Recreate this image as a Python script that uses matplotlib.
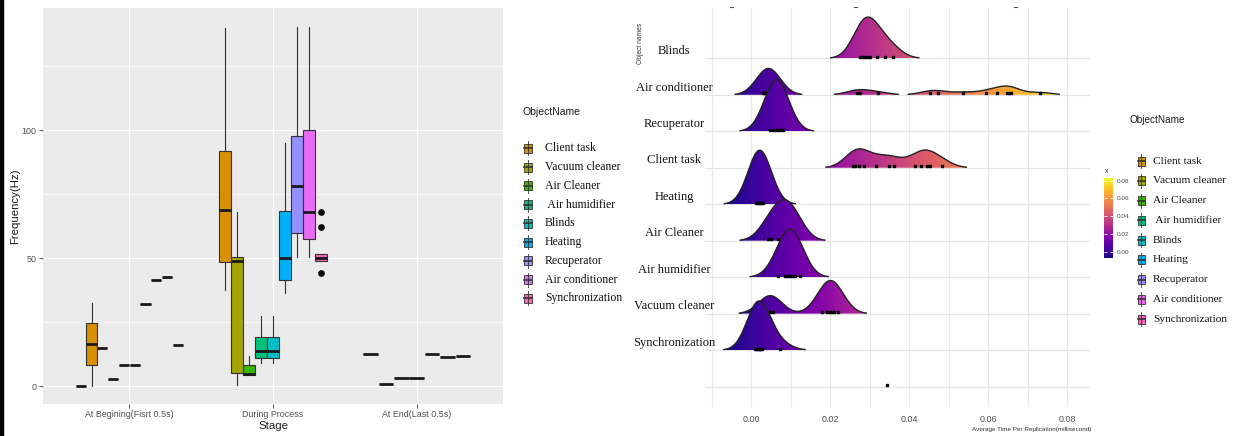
import numpy as np
import matplotlib
matplotlib.use("Agg")
import matplotlib.pyplot as plt
from matplotlib.patches import Rectangle, Polygon
from matplotlib.colors import Normalize
from matplotlib.cm import ScalarMappable

W, H, DPI = 1239, 436, 100
SANS = "Liberation Sans"
SERIF = "Liberation Serif"

# ---------------- shared categories ----------------
object_names = ["", "Client task", "Vacuum cleaner", "Air Cleaner", " Air humidifier",
                "Blinds", "Heating", "Recuperator", "Air conditioner", "Synchronization"]
object_colors = ["#F8766D", "#D89000", "#A3A500", "#39B600", "#00BF7D",
                 "#00BFC4", "#00B0F6", "#9590FF", "#E76BF3", "#FF62BC"]

# ---------------- left panel data (Frequency, Hz) ----------------
stages = ["At Begining(Fisrt 0.5s)", "During Process", "At End(Last 0.5s)"]

begin_objects = [0, 1, 2, 3, 4, 5, 6, 7, 8, 9]
begin_whislo = [0.0, 0.0, 15.0, 2.7, 8.3, 8.3, 32.0, 41.3, 42.7, 16.0]
begin_q1     = [0.0, 8.2, 15.0, 2.7, 8.3, 8.3, 32.0, 41.3, 42.7, 16.0]
begin_median = [0.0, 16.4, 15.0, 2.7, 8.3, 8.3, 32.0, 41.3, 42.7, 16.0]
begin_q3     = [0.0, 24.5, 15.0, 2.7, 8.3, 8.3, 32.0, 41.3, 42.7, 16.0]
begin_whishi = [0.0, 32.6, 15.0, 2.7, 8.3, 8.3, 32.0, 41.3, 42.7, 16.0]
begin_fliers = [[], [], [], [], [], [], [], [], [], []]

during_objects = [1, 2, 3, 4, 5, 6, 7, 8, 9]
during_whislo = [37.5, 0.4, 4.3, 9.1, 9.1, 36.4, 50.4, 50.4, 48.8]
during_q1     = [48.6, 5.0, 4.3, 11.0, 11.0, 41.3, 59.6, 57.3, 48.8]
during_median = [68.8, 48.8, 4.8, 13.7, 13.7, 49.9, 78.2, 68.1, 50.0]
during_q3     = [91.8, 50.4, 8.2, 19.3, 19.3, 68.4, 97.8, 100.0, 51.4]
during_whishi = [140.0, 68.0, 11.7, 27.5, 27.5, 94.8, 140.4, 140.4, 51.4]
during_fliers = [[], [], [], [], [], [], [], [], [68.1, 62.0, 44.3]]

end_objects = [1, 2, 3, 4, 5, 6, 7]
end_values = [12.5, 0.8, 3.1, 3.1, 12.5, 11.3, 11.6]

# ---------------- right panel data (Average time per replication, ms) ----------------
ridge_names = ["Blinds", "Air conditioner", "Recuperator", "Client task", "Heating",
               "Air Cleaner", "Air humidifier", "Vacuum cleaner", "Synchronization", ""]
blinds_pts = [0.0275, 0.0280, 0.0285, 0.0290, 0.0296, 0.0301, 0.0318, 0.0337, 0.0358]
aircond_pts = [0.0028, 0.0032, 0.0035, 0.0038, 0.0040, 0.0042, 0.0044, 0.0046, 0.0048,
               0.0050, 0.0054, 0.0058, 0.0267, 0.0274, 0.0320, 0.0451, 0.0472, 0.0536,
               0.0593, 0.0622, 0.0648, 0.0652, 0.0658, 0.0730]
recup_pts = [0.0048, 0.0055, 0.0060, 0.0066, 0.0072, 0.0080]
client_pts = [0.0257, 0.0263, 0.0271, 0.0284, 0.0316, 0.0347, 0.0360, 0.0415, 0.0428,
              0.0445, 0.0453, 0.0483]
heating_pts = [0.0012, 0.0016, 0.0020, 0.0022, 0.0025, 0.0030]
aircleaner_pts = [0.0042, 0.0050, 0.0068, 0.0078, 0.0086, 0.0095, 0.0105, 0.0115]
humid_pts = [0.0066, 0.0085, 0.0090, 0.0095, 0.0100, 0.0105, 0.0110, 0.0123]
vacuum_pts = [0.0040, 0.0047, 0.0055, 0.0178, 0.0190, 0.0198, 0.0203, 0.0210, 0.0220]
sync_pts = [0.0009, 0.0012, 0.0015, 0.0018, 0.0020, 0.0022, 0.0024, 0.0026, 0.0072]
blank_pts = [0.0343]
ridge_points = [blinds_pts, aircond_pts, recup_pts, client_pts, heating_pts,
                aircleaner_pts, humid_pts, vacuum_pts, sync_pts, blank_pts]

x_ticks = [0.00, 0.02, 0.04, 0.06, 0.08]
cbar_ticks = [0.00, 0.02, 0.04, 0.06, 0.08]

# ---------------- figure ----------------
fig = plt.figure(figsize=(W / DPI, H / DPI), dpi=DPI)
fig.patch.set_facecolor("white")


def px_axes(l, t, r, b):
    return fig.add_axes([l / W, (H - b) / H, (r - l) / W, (b - t) / H])


# ======== left panel: boxplots ========
axL = px_axes(43, 8, 503, 404)
axL.set_facecolor("#EBEBEB")
for s in axL.spines.values():
    s.set_visible(False)
axL.set_axisbelow(True)
axL.set_yticks([0, 50, 100])
axL.set_yticks([25, 75, 125], minor=True)
axL.set_xticks([1, 2, 3])
axL.set_xticklabels(stages)
axL.grid(which="major", color="white", lw=0.9)
axL.grid(which="minor", axis="y", color="white", lw=0.45)
axL.tick_params(which="major", length=3, width=0.6, color="#333333", labelcolor="#4D4D4D",
                labelsize=6.4, pad=1.5)
axL.tick_params(which="minor", length=0)
for lab in axL.get_xticklabels() + axL.get_yticklabels():
    lab.set_fontfamily(SANS)

stage_data = [
    (begin_objects, begin_whislo, begin_q1, begin_median, begin_q3, begin_whishi, begin_fliers),
    (during_objects, during_whislo, during_q1, during_median, during_q3, during_whishi, during_fliers),
    (end_objects, end_values, end_values, end_values, end_values, end_values,
     [[] for _ in end_objects]),
]
for si, (objs, lo, q1, med, q3, hi, fl) in enumerate(stage_data):
    n = len(objs)
    slot = 0.75 / n
    pos = [si + 1 + (j - (n - 1) / 2) * slot for j in range(n)]
    stats = [dict(whislo=lo[j], q1=q1[j], med=med[j], q3=q3[j], whishi=hi[j], fliers=fl[j])
             for j in range(n)]
    bp = axL.bxp(stats, positions=pos, widths=slot * 0.95, patch_artist=True,
                 showcaps=False, manage_ticks=False,
                 boxprops=dict(edgecolor="#333333", lw=0.8),
                 whiskerprops=dict(color="#333333", lw=0.8),
                 medianprops=dict(color="#1A1A1A", lw=2.0, solid_capstyle="butt"),
                 flierprops=dict(marker="o", markerfacecolor="black", markeredgecolor="black",
                                 markersize=3.8))
    for patch, o in zip(bp["boxes"], objs):
        patch.set_facecolor(object_colors[o])

axL.set_xlim(0.4, 3.6)
axL.set_ylim(-7.03, 147.66)
axL.set_xlabel("Stage", fontsize=8.2, fontfamily=SANS, color="#1A1A1A")
axL.set_ylabel("Frequency(Hz)", fontsize=8.2, fontfamily=SANS, color="#1A1A1A")
axL.xaxis.set_label_coords(0.5, (404 - 420.5) / 396)
axL.yaxis.set_label_coords((20 - 43) / 460, 0.5)

# ======== right panel: ridgelines ========
axR = px_axes(705, 8, 1090, 407)
axR.set_facecolor("white")
for s in axR.spines.values():
    s.set_visible(False)
n_rows = len(ridge_names)
for gx in np.arange(-0.01, 0.0801, 0.01):
    axR.axvline(gx, color="#E9E9E9", lw=0.8, zorder=0)
for base in range(1, n_rows + 1):
    axR.axhline(base, color="#E4E4E4", lw=0.9, zorder=0)

grid = np.linspace(-0.0118, 0.0857, 1400)
bw = 0.0029
rel_min_height = 0.01
ridge_scale = 1.48
norm = Normalize(vmin=-0.007, vmax=0.083)
grad = np.linspace(grid[0], grid[-1], 800)[None, :]


def kde(pts):
    p = np.asarray(pts)
    d = (grid[:, None] - p[None, :]) / bw
    return np.exp(-0.5 * d ** 2).sum(axis=1) / (len(p) * bw * np.sqrt(2 * np.pi))


dens = [kde(p) if len(p) >= 2 else None for p in ridge_points]
gmax = max(d.max() for d in dens if d is not None)

for k, (name, pts, d) in enumerate(zip(ridge_names, ridge_points, dens)):
    base = n_rows - k
    z = 2 + 3 * k
    if d is not None:
        h = d / gmax * ridge_scale
        idx = np.flatnonzero(d >= rel_min_height * gmax)
        for seg in np.split(idx, np.where(np.diff(idx) > 1)[0] + 1):
            if len(seg) < 2:
                continue
            xs = grid[seg]
            ys = base + h[seg]
            verts = np.column_stack([np.r_[xs, xs[::-1]], np.r_[ys, np.full(len(xs), base)]])
            poly = Polygon(verts, closed=True, facecolor="none", edgecolor="none")
            axR.add_patch(poly)
            im = axR.imshow(grad, extent=[grid[0], grid[-1], base, base + ridge_scale + 0.2],
                            cmap="plasma", norm=norm, aspect="auto", origin="lower",
                            interpolation="bilinear", zorder=z)
            im.set_clip_path(poly)
            axR.plot(xs, ys, color="#222222", lw=1.0, zorder=z + 0.5)
    axR.plot(pts, np.full(len(pts), base + 0.04), ls="none", marker="s", ms=1.7,
             color="black", zorder=z + 0.8)
    if name:
        axR.text((674 - 705) / 385, base + 0.2, name, transform=axR.get_yaxis_transform(),
                 ha="center", va="center", fontfamily=SERIF, fontsize=9.0, color="#111111")

axR.set_xlim(-0.01177, 0.0857)
axR.set_ylim(0.44, 11.38)
axR.set_yticks([])
axR.set_xticks(x_ticks)
axR.set_xticklabels([f"{v:.2f}" for v in x_ticks])
axR.tick_params(axis="x", length=0, labelsize=6.4, labelcolor="#4D4D4D", pad=6.0)
for lab in axR.get_xticklabels():
    lab.set_fontfamily(SANS)

# colorbar
cax = px_axes(1104, 178, 1112.7, 258)
cb = fig.colorbar(ScalarMappable(norm=norm, cmap="plasma"), cax=cax)
cb.outline.set_visible(False)
cb.set_ticks(cbar_ticks)
cb.set_ticklabels([f"{v:.2f}" for v in cbar_ticks])
cax.tick_params(length=2.2, width=0.6, color="white", direction="in", labelsize=4.6,
                labelcolor="#4D4D4D", pad=3, left=True, right=True)
for lab in cax.get_yticklabels():
    lab.set_fontfamily(SANS)

# ======== overlay: legends and texts in pixel space ========
axo = fig.add_axes([0, 0, 1, 1])
axo.set_xlim(0, W)
axo.set_ylim(H, 0)
axo.set_axis_off()
axo.patch.set_alpha(0)


def draw_key(xc, yc, color, w=8.0, hh=9.0):
    axo.plot([xc, xc], [yc - hh / 2 - 2.5, yc + hh / 2 + 2.5], color="#333333", lw=0.6)
    axo.add_patch(Rectangle((xc - w / 2, yc - hh / 2), w, hh, facecolor=color,
                            edgecolor="#333333", lw=0.6))
    axo.plot([xc - w / 2, xc + w / 2], [yc, yc], color="#333333", lw=1.2)


axo.add_patch(Rectangle((0, 0), 2.6, H, color="black"))

# legend 1
axo.text(522.7, 111.7, "ObjectName", ha="left", va="center", fontfamily=SANS, fontsize=7.5,
         color="#1A1A1A")
for i, o in enumerate(range(1, len(object_names))):
    yc = 148.3 + i * 18.75
    draw_key(528, yc, object_colors[o])
    axo.text(545, yc, object_names[o], ha="left", va="center", fontfamily=SERIF,
             fontsize=8.5, color="#111111")

# legend 2
axo.text(1130, 120, "ObjectName", ha="left", va="center", fontfamily=SANS, fontsize=7.2,
         color="#1A1A1A")
for i, o in enumerate(range(1, len(object_names))):
    yc = 161 + i * 19.75
    draw_key(1141, yc, object_colors[o], w=7.0, hh=9.0)
    axo.text(1153, yc, object_names[o], ha="left", va="center", fontfamily=SERIF,
             fontsize=8.2, color="#111111")

axo.text(1106.5, 171.5, "x", ha="center", va="center", fontfamily=SANS, fontsize=5,
         color="#333333")
axo.text(640, 43, "Object names", rotation=90, ha="center", va="center", fontfamily=SANS,
         fontsize=4.8, color="#333333")
axo.text(1031.7, 429, "Average Time Per Replication(millisecond)", ha="center", va="center",
         fontfamily=SANS, fontsize=4.6, color="#333333")
for tx in (731.7, 855, 1015):
    axo.plot([tx - 1.5, tx + 1.5], [6.7, 6.7], color="#555555", lw=0.8)

fig.savefig("out.png", dpi=DPI)
